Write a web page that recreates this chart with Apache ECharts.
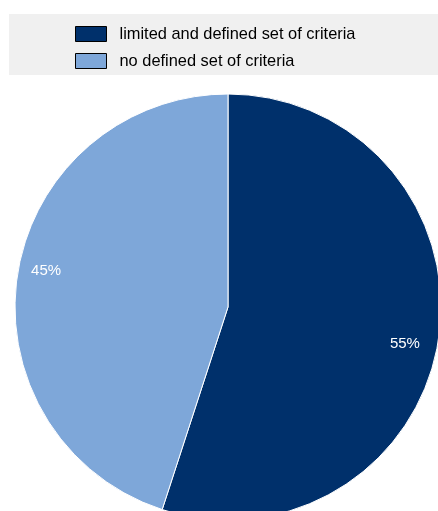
<!DOCTYPE html>
<html>
<head>
<meta charset="utf-8">
<script src="https://cdn.jsdelivr.net/npm/echarts@6/dist/echarts.min.js"></script>
<style>
  html, body { margin: 0; padding: 0; background: #ffffff; }
  #chart { width: 438px; height: 511px; }
</style>
</head>
<body>
<div id="chart"></div>
<script>
// Share of procedures by type of selection criteria
const categories = ['limited and defined set of criteria', 'no defined set of criteria'];
const shares = [55, 45];
const colors = ['#00306b', '#7ea7d9'];

const pieData = categories.map((name, i) => ({
  name: name,
  value: shares[i],
  itemStyle: { color: colors[i] }
}));

const chart = echarts.init(document.getElementById('chart'), null, { renderer: 'canvas' });

const center = [228, 307];
const radius = 213;
// small nudges for the percentage labels
const labelNudge = [[-7, 8], [2, -7]];

chart.setOption({
  animation: false,
  graphic: [{
    type: 'rect',
    left: 9, top: 14,
    shape: { width: 429, height: 61 },
    style: { fill: '#f0f0f0' },
    z: -10
  }],
  legend: {
    data: categories,
    orient: 'vertical',
    left: 75,
    top: 26,
    padding: 0,
    itemWidth: 31,
    itemHeight: 15,
    itemGap: 11,
    icon: 'rect',
    itemStyle: { borderColor: '#000000', borderWidth: 1 },
    textStyle: { fontFamily: 'Liberation Sans, Arial', fontSize: 16.4, color: '#000000', padding: [0, 0, 0, 8] },
    selectedMode: false
  },
  series: [
    {
      type: 'pie',
      center: center,
      radius: radius,
      startAngle: 90,
      clockwise: true,
      silent: true,
      label: { show: false },
      labelLine: { show: false },
      itemStyle: { borderColor: '#ffffff', borderWidth: 1 },
      data: pieData
    },
    {
      // transparent ring used only to place the percentage labels near the rim
      type: 'pie',
      center: center,
      radius: [radius * 0.72, radius],
      startAngle: 90,
      clockwise: true,
      silent: true,
      itemStyle: { color: 'rgba(0,0,0,0)' },
      label: {
        show: true,
        position: 'inside',
        formatter: '{c}%',
        color: '#ffffff',
        fontFamily: 'Liberation Sans, Arial',
        fontSize: 15
      },
      labelLayout: function (p) {
        const n = labelNudge[p.dataIndex] || [0, 0];
        return { dx: n[0], dy: n[1] };
      },
      labelLine: { show: false },
      data: categories.map((name, i) => ({ name: name, value: shares[i] }))
    }
  ]
});
</script>
</body>
</html>
